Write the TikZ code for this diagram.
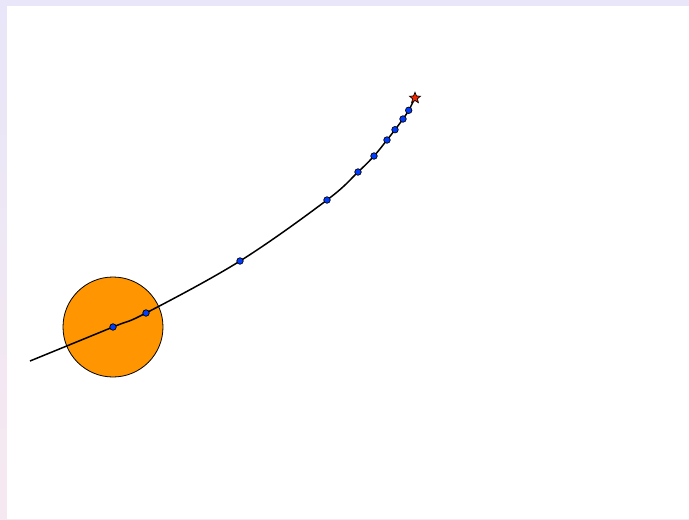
\documentclass[tikz,border=0pt]{standalone}
\usetikzlibrary{shapes.geometric}
\definecolor{frameA}{RGB}{232,230,248}
\definecolor{frameB}{RGB}{246,232,240}
\definecolor{sunorange}{RGB}{255,149,0}
\definecolor{dotblue}{RGB}{0,60,255}
\definecolor{starred}{RGB}{240,40,0}
\tikzset{
  orbitdot/.style={circle,draw=black,fill=dotblue,line width=0.7pt,inner sep=0pt,minimum size=6.5pt},
  endstar/.style={star,star points=5,star point ratio=2.3,draw=black,fill=starred,line width=0.7pt,inner sep=0pt,minimum size=11.5pt},
  orbitline/.style={line width=1.5pt,black}
}
\begin{document}
\begin{tikzpicture}[x=1pt,y=-1pt]
\useasboundingbox (0,0) rectangle (689,520);
\fill[frameA] (0,0) rectangle (689,6);
\shade[top color=frameA,bottom color=frameB] (0,6) rectangle (7,520);
\fill[white] (7,6) rectangle (689,519);
\fill[frameB] (7,519) rectangle (689,520);
% sun
\node[circle,draw=black,fill=sunorange,line width=0.8pt,minimum size=100pt,inner sep=0pt] (sun) at (113,327) {};
% path coordinates
\coordinate (p0) at (30,361);
\coordinate (p1) at (113,327);
\coordinate (p2) at (146,313);
\coordinate (p3) at (240,261);
\coordinate (p4) at (327,200);
\coordinate (p5) at (358,172);
\coordinate (p6) at (374,156);
\coordinate (p7) at (387,140);
\coordinate (p8) at (395,129.7);
\coordinate (p9) at (403,119);
\coordinate (p10) at (408.7,110.3);
\coordinate (p11) at (415,98);
\draw[orbitline] plot[smooth,tension=0.6] coordinates {(30,361) (113,327) (146,313) (240,261) (327,200) (358,172) (374,156) (387,140) (395,129.7) (403,119) (408.7,110.3) (415,98)};
\foreach \i in {1,...,10} {\node[orbitdot] (d\i) at (p\i) {};}
\node[endstar] (target) at (p11) {};
\end{tikzpicture}
\end{document}
